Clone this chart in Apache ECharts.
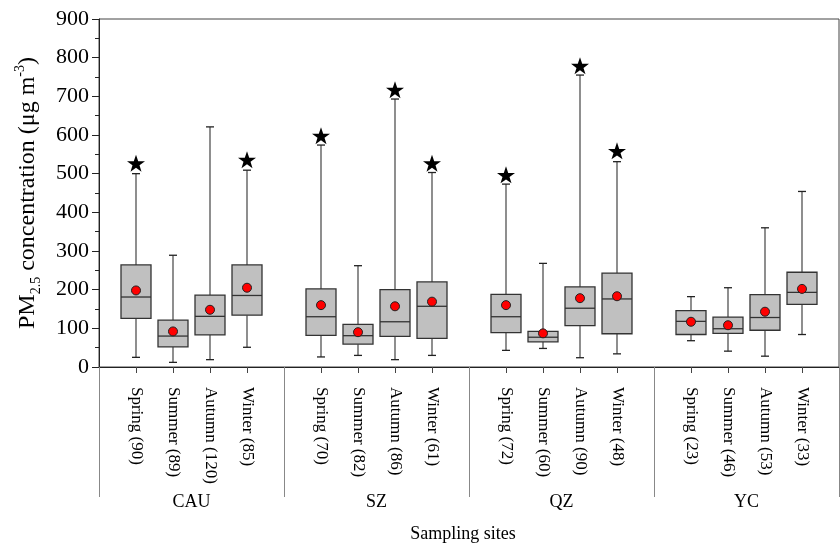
<!DOCTYPE html>
<html>
<head>
<meta charset="utf-8">
<title>PM2.5 box plot</title>
<script src="https://cdn.jsdelivr.net/npm/echarts@6/dist/echarts.min.js"></script>
<style>
  html, body { margin: 0; padding: 0; background: #fff; }
  #chart { width: 840px; height: 545px; }
</style>
</head>
<body>
<div id="chart"></div>
<script>
// sampling sites and the season label (with sample count) under each box
const sites = ['CAU', 'SZ', 'QZ', 'YC']
const seasonLabels = [
  'Spring (90)', 'Summer (89)', 'Autumn (120)', 'Winter (85)',
  'Spring (70)', 'Summer (82)', 'Autumn (86)', 'Winter (61)',
  'Spring (72)', 'Summer (60)', 'Autumn (90)', 'Winter (48)',
  'Spring (23)', 'Summer (46)', 'Autumn (53)', 'Winter (33)'
]

// box statistics (µg m-3)
const minVals = [25, 12, 19, 51, 26, 30, 19, 30, 43, 48, 24, 34, 68, 41, 28, 84]
const q1Vals = [126, 52, 83, 134, 82, 59, 79, 74, 89, 65, 107, 86, 84, 87, 95, 162]
const medianVals = [181, 80, 131, 185, 130, 81, 117, 157, 130, 77, 152, 176, 118, 99, 128, 193]
const q3Vals = [264, 121, 186, 264, 202, 110, 200, 220, 188, 92, 207, 243, 146, 129, 187, 245]
const maxVals = [500, 289, 621, 509, 574, 262, 693, 503, 473, 268, 755, 531, 182, 205, 360, 454]
const meanVals = [198, 92, 148, 205, 160, 90, 157, 169, 160, 87, 178, 183, 117, 108, 143, 202]
const starVals = [527, null, null, 536, 598, null, 717, 527, 497, null, 779, 559, null, null, null, null]

const yTicks = { min : 0, max : 900, interval : 100 }

const FONT = '"Liberation Serif", "Times New Roman", serif'
const STAR = 'path://M50,0 L61.8,35.1 L98.1,35.1 L68.8,56.7 L79.4,91 L50,70 L20.6,91 L31.2,56.7 L1.9,35.1 L38.2,35.1 Z'

// each site takes 4 slots plus one blank slot as separator
const slotOf = k => 1 + Math.floor( k / 4 ) * 5 + ( k % 4 )

const axisData = []
for ( let i = 0; i <= sites.length * 5; i++ ) axisData.push( '' )
seasonLabels.forEach( ( s, k ) => { axisData[slotOf( k )] = s } )

const boxData = seasonLabels.map( ( s, k ) =>
  [slotOf( k ), minVals[k], q1Vals[k], medianVals[k], q3Vals[k], maxVals[k]] )
const meanData = meanVals.map( ( v, k ) => [slotOf( k ), v] )
const starData = []
starVals.forEach( ( v, k ) => { if ( v != null ) starData.push( [slotOf( k ), v] ) } )

const renderBox = ( params, api ) => {
  const x = api.value( 0 )
  const pMin = api.coord( [x, api.value( 1 )] )
  const pQ1 = api.coord( [x, api.value( 2 )] )
  const pMed = api.coord( [x, api.value( 3 )] )
  const pQ3 = api.coord( [x, api.value( 4 )] )
  const pMax = api.coord( [x, api.value( 5 )] )
  const cx = pMed[0]
  const hw = 15
  const cap = 4
  const whisker = { stroke : '#444', lineWidth : 1.2 }
  const edge = { stroke : '#222', lineWidth : 1.3 }
  return {
    type : 'group',
    children : [
      { type : 'line', shape : { x1 : cx, y1 : pQ3[1], x2 : cx, y2 : pMax[1] }, style : whisker },
      { type : 'line', shape : { x1 : cx, y1 : pQ1[1], x2 : cx, y2 : pMin[1] }, style : whisker },
      { type : 'line', shape : { x1 : cx - cap, y1 : pMax[1], x2 : cx + cap, y2 : pMax[1] }, style : edge },
      { type : 'line', shape : { x1 : cx - cap, y1 : pMin[1], x2 : cx + cap, y2 : pMin[1] }, style : edge },
      {
        type : 'rect',
        shape : { x : cx - hw, y : pQ3[1], width : hw * 2, height : pQ1[1] - pQ3[1] },
        style : { fill : '#c0c0c0', stroke : '#333', lineWidth : 1.3 }
      },
      { type : 'line', shape : { x1 : cx - hw, y1 : pMed[1], x2 : cx + hw, y2 : pMed[1] }, style : { stroke : '#333', lineWidth : 1.3 } }
    ]
  }
}

const chart = echarts.init( document.getElementById( 'chart' ) )

chart.setOption( {
  animation : false,
  backgroundColor : '#fff',
  textStyle : { fontFamily : FONT, color : '#000' },
  grid : {
    left : 99,
    top : 19,
    right : 1,
    bottom : 178,
    outerBoundsMode : 'none',
    show : true,
    borderColor : '#444',
    borderWidth : 1
  },
  xAxis : [
    {
      type : 'category',
      data : axisData,
      boundaryGap : false,
      axisLine : { lineStyle : { color : '#222', width : 1 } },
      axisTick : { show : true, interval : 0, length : 6, lineStyle : { color : '#444' } },
      axisLabel : {
        interval : 0,
        rotate : -90,
        margin : 20,
        fontFamily : FONT,
        fontSize : 17,
        color : '#000'
      },
      splitLine : { show : false }
    },
    {
      type : 'category',
      data : sites,
      position : 'bottom',
      boundaryGap : true,
      axisLine : { show : true, lineStyle : { color : 'rgba(0,0,0,0)', width : 0 } },
      axisTick : { show : true, interval : 0, alignWithLabel : false, length : 130, lineStyle : { color : '#888', width : 1 } },
      axisLabel : { interval : 0, margin : 126, fontFamily : FONT, fontSize : 18, color : '#000' },
      splitLine : { show : false },
      name : 'Sampling sites',
      nameLocation : 'middle',
      nameGap : 158,
      nameTextStyle : { fontFamily : FONT, fontSize : 18, color : '#000', padding : [0, 12, 0, 0] }
    }
  ],
  yAxis : {
    type : 'value',
    min : yTicks.min,
    max : yTicks.max,
    interval : yTicks.interval,
    axisLine : { show : true, lineStyle : { color : '#222', width : 1 } },
    axisTick : { show : true, length : 7, lineStyle : { color : '#222' } },
    minorTick : { show : true, splitNumber : 2, length : 4, lineStyle : { color : '#222' } },
    splitLine : { show : false },
    axisLabel : { margin : 10, fontFamily : FONT, fontSize : 22, color : '#000' },
    name : '{a|PM}{sub|2.5}{a| concentration (μg m}{sup|-3}{a|)}',
    nameLocation : 'middle',
    nameGap : 56,
    nameTextStyle : {
      fontFamily : FONT,
      color : '#000',
      rich : {
        a : { fontFamily : FONT, fontSize : 24, lineHeight : 30, color : '#000' },
        sub : { fontFamily : FONT, fontSize : 14, lineHeight : 15, verticalAlign : 'bottom', color : '#000' },
        sup : { fontFamily : FONT, fontSize : 14, lineHeight : 15, verticalAlign : 'top', color : '#000' }
      }
    }
  },
  series : [
    {
      name : 'box',
      type : 'custom',
      xAxisIndex : 0,
      renderItem : renderBox,
      encode : { x : 0, y : [1, 2, 3, 4, 5] },
      data : boxData,
      z : 2
    },
    {
      name : 'mean',
      type : 'scatter',
      xAxisIndex : 0,
      data : meanData,
      symbol : 'circle',
      symbolSize : 9,
      itemStyle : { color : '#ff0000', borderColor : '#222', borderWidth : 1, opacity : 1 },
      z : 3
    },
    {
      name : 'star',
      type : 'scatter',
      xAxisIndex : 0,
      data : starData,
      symbol : STAR,
      symbolSize : [18, 17],
      itemStyle : { color : '#000', opacity : 1 },
      z : 3
    }
  ]
} )

window.addEventListener( 'resize', () => chart.resize() )
</script>
</body>
</html>
